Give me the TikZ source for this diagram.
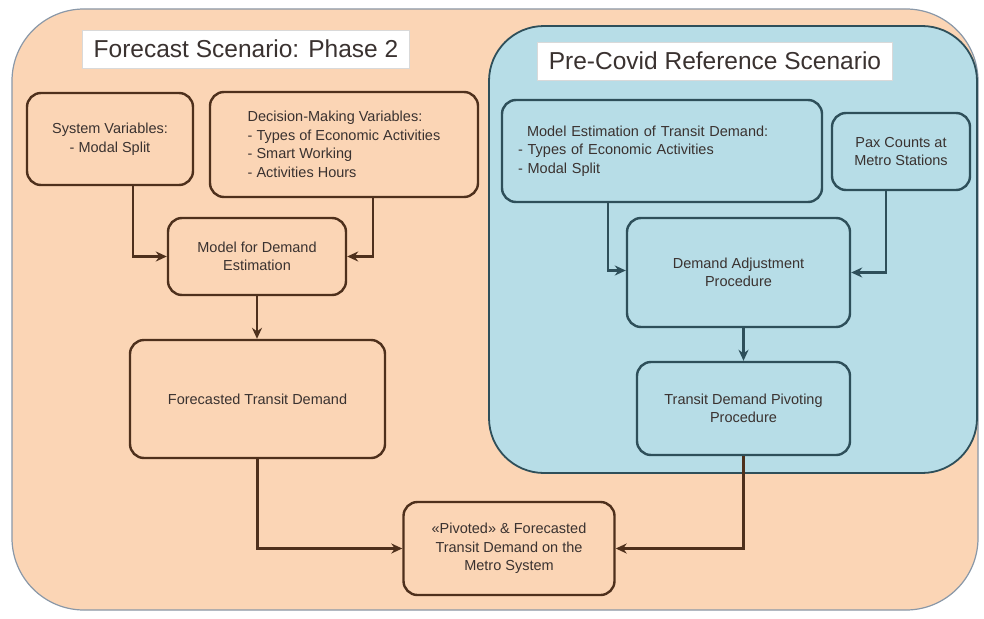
\documentclass[tikz,border=0pt]{standalone}
\usepackage{fontspec}
\setmainfont{Liberation Sans}
\usetikzlibrary{arrows.meta}
\definecolor{peach}{HTML}{FBD5B5}
\definecolor{outerline}{HTML}{8A98A8}
\definecolor{bluefill}{HTML}{B7DDE7}
\definecolor{blueline}{HTML}{2E4F5A}
\definecolor{brownline}{HTML}{4E301C}
\definecolor{txt}{HTML}{3A3230}
\tikzset{
  pbox/.style={draw=brownline, line width=2.4pt, fill=peach, rounded corners=14pt,
    text=txt, font=\fontsize{14.5}{18.5}\selectfont, inner sep=2pt},
  bbox/.style={draw=blueline, line width=2.4pt, fill=bluefill, rounded corners=14pt,
    text=txt, font=\fontsize{14.5}{18.5}\selectfont, inner sep=2pt},
  titlebox/.style={fill=white, draw=white!85!black, line width=0.4pt, text=txt,
    font=\fontsize{24.5}{28}\selectfont, inner sep=0pt},
  parr/.style={draw=brownline, line width=2.6pt, -{Stealth[length=11pt,width=10pt]}},
  barr/.style={draw=blueline, line width=2.6pt, -{Stealth[length=11pt,width=10pt]}}
}
\begin{document}
\begin{tikzpicture}[x=1pt,y=-1pt]
\useasboundingbox (0,0) rectangle (984,618);
\fill[white] (0,0) rectangle (984,618);
% outer peach area
\draw[outerline, line width=1.2pt, fill=peach, rounded corners=72pt] (12,9) rectangle (978,610);
% blue area
\draw[blueline, line width=1.8pt, fill=bluefill, rounded corners=55pt] (489,26) rectangle (977,473);
% titles
\node[titlebox, minimum width=327pt, minimum height=38pt] (t1) at (246,49) {Forecast Scenario: Phase 2};
\node[titlebox, minimum width=355pt, minimum height=38pt] (t2) at (715,61) {Pre-Covid Reference Scenario};
% left nodes
\node[pbox, minimum width=166pt, minimum height=92pt, align=center] (sys) at (110,139)
  {System Variables:\\- Modal Split};
\node[pbox, minimum width=268pt, minimum height=105pt, align=left] (dec) at (344,144.5)
  {Decision-Making Variables:\\- Types of Economic Activities\\- Smart Working\\- Activities Hours};
\node[pbox, minimum width=178pt, minimum height=77pt, align=center] (mde) at (257,256.5)
  {Model for Demand\\Estimation};
\node[pbox, minimum width=255pt, minimum height=118pt, align=center] (ftd) at (257.5,399)
  {Forecasted Transit Demand};
\node[pbox, minimum width=211pt, minimum height=93pt, align=center] (piv) at (509,548.5)
  {«Pivoted» \& Forecasted\\Transit Demand on the\\Metro System};
% blue nodes
\node[bbox, minimum width=320pt, minimum height=102pt, text width=288pt, align=left] (mest) at (662,151)
  {\hspace*{9pt}Model Estimation of Transit Demand:\\- Types of Economic Activities\\- Modal Split};
\node[bbox, minimum width=138pt, minimum height=77pt, align=center] (pax) at (901,151.5)
  {Pax Counts at\\Metro Stations};
\node[bbox, minimum width=223pt, minimum height=109pt, align=center] (dap) at (738.5,272.5)
  {Demand Adjustment\\Procedure};
\node[bbox, minimum width=213pt, minimum height=93pt, align=center] (tdp) at (743.5,408.5)
  {Transit Demand Pivoting\\Procedure};
% connectors
\draw[parr] ([xshift=23pt]sys.south) |- (mde.west);
\draw[parr] ([xshift=29pt]dec.south) |- (mde.east);
\draw[parr] (mde.south) -- (mde.south |- ftd.north);
\draw[parr] (ftd.south) |- (piv.west);
\draw[barr] ([xshift=-54pt]mest.south) |- ([yshift=2pt]dap.west);
\draw[barr] ([xshift=-15pt]pax.south) |- (dap.east);
\draw[barr] (tdp.north |- dap.south) -- (tdp.north);
\draw[parr] (tdp.south) |- (piv.east);
\end{tikzpicture}
\end{document}
